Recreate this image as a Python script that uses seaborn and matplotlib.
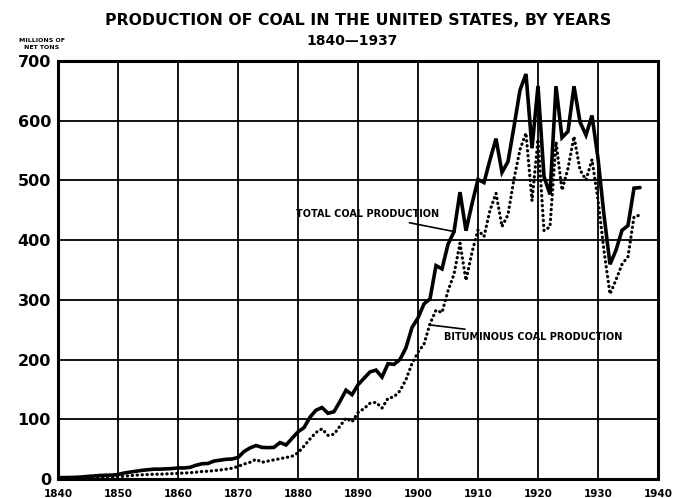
import matplotlib
matplotlib.use("Agg")
import matplotlib.pyplot as plt
import pandas as pd
import seaborn as sns

# production of coal, millions of net tons, 1840-1937
years = list(range(1840, 1938))
total = [2.5, 2.3, 2.6, 2.8, 3.4, 4.4, 5.0, 5.9, 6.3, 6.5,
         7.5, 10.0, 11.5, 13.0, 14.5, 15.5, 16.5, 16.5, 17.0, 17.5,
         18.5, 18.5, 19.5, 23.0, 25.5, 26.0, 30.0, 31.5, 33.0, 33.5,
         36.0, 46.0, 52.0, 56.0, 53.0, 52.5, 53.0, 61.0, 57.0, 68.0,
         79.0, 86.0, 103.6, 115.2, 119.7, 110.0, 112.7, 130.0, 148.7, 141.2,
         157.8, 168.6, 179.3, 182.4, 170.7, 193.1, 191.9, 200.2, 219.9, 253.7,
         269.7, 293.3, 301.6, 357.4, 351.8, 393.0, 414.2, 480.4, 415.8, 460.8,
         501.6, 496.4, 534.5, 570.0, 513.5, 531.6, 590.1, 651.4, 678.2, 553.9,
         658.3, 506.4, 476.6, 657.8, 571.6, 582.0, 657.8, 597.9, 576.0, 608.8,
         536.9, 441.7, 359.6, 383.2, 416.5, 424.5, 487.1, 488.0]
bituminous = [1.3, 1.4, 1.5, 1.6, 1.8, 2.0, 2.2, 2.5, 2.8, 3.0,
              4.0, 4.5, 5.5, 6.5, 7.0, 7.5, 8.0, 8.0, 8.5, 9.0,
              9.5, 10.0, 10.5, 11.5, 12.5, 13.0, 14.0, 15.0, 16.5, 18.0,
              21.0, 25.0, 28.0, 33.0, 28.0, 30.0, 32.0, 34.0, 36.0, 38.0,
              44.0, 55.0, 67.0, 78.0, 84.0, 73.0, 75.0, 88.6, 102.0, 95.7,
              111.3, 117.9, 126.9, 128.4, 118.8, 135.1, 137.6, 147.6, 166.6, 193.3,
              212.3, 225.8, 260.2, 282.7, 278.7, 315.1, 342.9, 394.8, 332.6, 379.7,
              417.1, 405.9, 450.1, 478.4, 422.7, 442.6, 502.5, 551.8, 579.4, 465.9,
              568.7, 415.9, 422.3, 564.6, 483.7, 520.1, 573.4, 517.8, 500.7, 535.0,
              467.5, 382.1, 309.7, 333.6, 359.4, 372.5, 439.1, 442.0]
x_ticks = list(range(1840, 1950, 10))
y_ticks = list(range(0, 800, 100))

df = pd.DataFrame({"year": years, "total": total, "bituminous": bituminous})

sns.set_style("white")
plt.rcParams["text.color"] = "black"
plt.rcParams["xtick.color"] = "black"
plt.rcParams["ytick.color"] = "black"

fig = plt.figure(figsize=(6.81, 4.98), dpi=100)
ax = fig.add_axes([58 / 681, 19 / 498, 600 / 681, 418 / 498])

sns.lineplot(data=df, x="year", y="total", ax=ax, color="black", lw=2.6,
             solid_joinstyle="miter", zorder=3)
sns.lineplot(data=df, x="year", y="bituminous", ax=ax, color="black", lw=2.3,
             linestyle=(0, (0.1, 1.45)), dash_capstyle="round", zorder=3)

ax.set_xlim(1840, 1940)
ax.set_ylim(0, 700)
ax.set_xticks(x_ticks)
ax.set_yticks(y_ticks)
ax.set_xticklabels([str(t) for t in x_ticks], fontweight="bold", fontsize=7.5)
ax.set_yticklabels([str(t) for t in y_ticks], fontweight="bold", fontsize=11.5)
ax.tick_params(axis="x", length=0, pad=7)
ax.tick_params(axis="y", length=0, pad=5)
ax.grid(True, color="black", lw=1.3)
ax.set_axisbelow(True)
for s in ax.spines.values():
    s.set_color("black")
    s.set_linewidth(2.2)
ax.set_xlabel("")
ax.set_ylabel("")

# labels of the two curves
ax.annotate("TOTAL COAL PRODUCTION", xy=(1906.2, 414), xytext=(1903.5, 443),
            ha="right", va="center", fontsize=7, fontweight="bold",
            arrowprops=dict(arrowstyle="-", color="black", lw=1.2,
                            shrinkA=0, shrinkB=0))
ax.annotate("BITUMINOUS COAL PRODUCTION", xy=(1902, 258), xytext=(1904.3, 237),
            ha="left", va="center", fontsize=7, fontweight="bold",
            arrowprops=dict(arrowstyle="-", color="black", lw=1.2,
                            shrinkA=0, shrinkB=0))

fig.text(358 / 681, 1 - 20 / 498, "PRODUCTION OF COAL IN THE UNITED STATES, BY YEARS",
         ha="center", va="center", fontsize=11.3, fontweight="bold")
fig.text(352 / 681, 1 - 41 / 498, "1840\u20141937", ha="center", va="center",
         fontsize=10, fontweight="bold")
fig.text(42 / 681, 1 - 44 / 498, "MILLIONS OF\nNET TONS", ha="center", va="center",
         fontsize=4.5, fontweight="bold", linespacing=1.3)

fig.savefig("out.png", dpi=100)
